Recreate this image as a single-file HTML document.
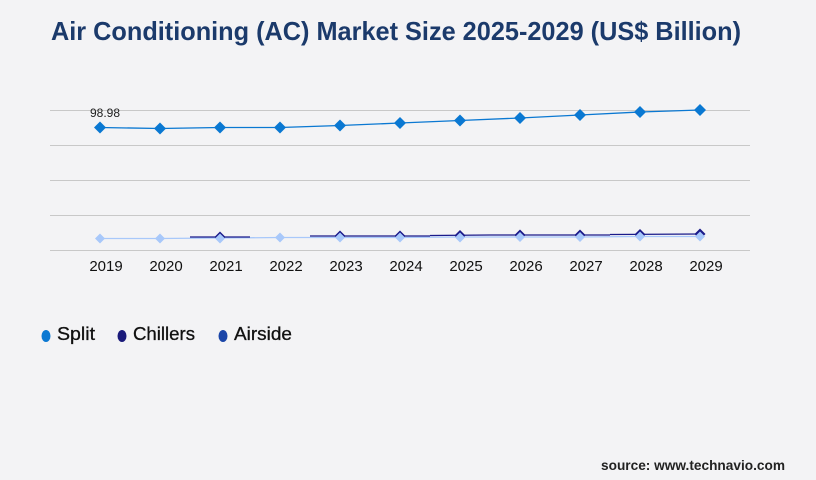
<!DOCTYPE html>
<html><head><style>html,body{margin:0;padding:0;background:#f3f3f5;}svg{display:block}</style></head>
<body>
<svg width="816" height="480" xmlns="http://www.w3.org/2000/svg" font-family="Liberation Sans, sans-serif">
<rect width="816" height="480" fill="#f3f3f5"/>
<text x="51" y="40" font-size="26" font-weight="bold" fill="#1b3a6b" textLength="690" lengthAdjust="spacingAndGlyphs">Air Conditioning (AC) Market Size 2025-2029 (US$ Billion)</text>
<g stroke="#c8c8c8" stroke-width="1">
<line x1="50" y1="110.5" x2="750" y2="110.5"/>
<line x1="50" y1="145.5" x2="750" y2="145.5"/>
<line x1="50" y1="180.5" x2="750" y2="180.5"/>
<line x1="50" y1="215.5" x2="750" y2="215.5"/>
<line x1="50" y1="250.5" x2="750" y2="250.5"/>
</g>
<polyline fill="none" stroke="#a8c8fa" stroke-width="1.3" points="100,238.5 160,238.5 220,238 280,237.5 340,237.5 400,237.5 460,237 520,237 580,237 640,236.5 700,236.5"/>
<g stroke="#1a1a8a" stroke-width="1.3">
<line x1="190" y1="237" x2="250" y2="237"/>
<line x1="310" y1="236" x2="430" y2="236"/>
<line x1="430" y1="235.5" x2="490" y2="235"/>
<line x1="490" y1="235" x2="610" y2="235"/>
<line x1="610" y1="234.5" x2="700" y2="234"/>
</g>
<polyline fill="none" stroke="#0a78d2" stroke-width="1.3" points="100,127.5 160,128.5 220,127.5 280,127.5 340,125.5 400,123 460,120.5 520,118 580,115 640,112 700,110"/>
<g fill="#0a78d2">
<path d="M100,121.5l6,6-6,6-6-6z"/><path d="M160,122.5l6,6-6,6-6-6z"/><path d="M220,121.5l6,6-6,6-6-6z"/><path d="M280,121.5l6,6-6,6-6-6z"/><path d="M340,119.5l6,6-6,6-6-6z"/><path d="M400,117l6,6-6,6-6-6z"/><path d="M460,114.5l6,6-6,6-6-6z"/><path d="M520,112l6,6-6,6-6-6z"/><path d="M580,109l6,6-6,6-6-6z"/><path d="M640,106l6,6-6,6-6-6z"/><path d="M700,104l6,6-6,6-6-6z"/>
</g>
<g fill="#1a1a8a">
<path d="M220,231.5l5.5,5.5-5.5,5.5-5.5-5.5z"/><path d="M340,230.5l5.5,5.5-5.5,5.5-5.5-5.5z"/><path d="M400,230.5l5.5,5.5-5.5,5.5-5.5-5.5z"/><path d="M460,230l5.5,5.5-5.5,5.5-5.5-5.5z"/><path d="M520,229.5l5.5,5.5-5.5,5.5-5.5-5.5z"/><path d="M580,229.5l5.5,5.5-5.5,5.5-5.5-5.5z"/><path d="M640,229l5.5,5.5-5.5,5.5-5.5-5.5z"/><path d="M700,228.5l5.5,5.5-5.5,5.5-5.5-5.5z"/>
</g>
<g fill="#a8c8fa">
<path d="M100,233.5l5,5-5,5-5-5z"/><path d="M160,233.5l5,5-5,5-5-5z"/><path d="M220,233.5l5,5-5,5-5-5z"/><path d="M280,232.5l5,5-5,5-5-5z"/><path d="M340,232.5l5,5-5,5-5-5z"/><path d="M400,232.5l5,5-5,5-5-5z"/><path d="M460,232.5l5,5-5,5-5-5z"/><path d="M520,232l5,5-5,5-5-5z"/><path d="M580,232l5,5-5,5-5-5z"/><path d="M640,231.5l5,5-5,5-5-5z"/><path d="M700,231.5l5,5-5,5-5-5z"/>
</g>
<text x="105" y="117" font-size="12" fill="#222" text-anchor="middle">98.98</text>
<g font-size="15" fill="#111" text-anchor="middle">
<text x="106" y="271">2019</text><text x="166" y="271">2020</text><text x="226" y="271">2021</text><text x="286" y="271">2022</text><text x="346" y="271">2023</text><text x="406" y="271">2024</text><text x="466" y="271">2025</text><text x="526" y="271">2026</text><text x="586" y="271">2027</text><text x="646" y="271">2028</text><text x="706" y="271">2029</text>
</g>
<ellipse cx="46" cy="336" rx="4.5" ry="6" fill="#0a78d2"/>
<ellipse cx="122" cy="336" rx="4.5" ry="6" fill="#1a1a7a"/>
<ellipse cx="223" cy="336" rx="4.5" ry="6" fill="#1a45a8"/>
<g font-size="18" fill="#111" stroke="#111" stroke-width="0.3">
<text x="57" y="340" textLength="38" lengthAdjust="spacingAndGlyphs">Split</text><text x="133" y="340" textLength="62" lengthAdjust="spacingAndGlyphs">Chillers</text><text x="234" y="340" textLength="58" lengthAdjust="spacingAndGlyphs">Airside</text>
</g>
<text x="785" y="470" font-size="14" font-weight="bold" fill="#222" text-anchor="end" textLength="184" lengthAdjust="spacingAndGlyphs">source: www.technavio.com</text>
</svg>
</body></html>
